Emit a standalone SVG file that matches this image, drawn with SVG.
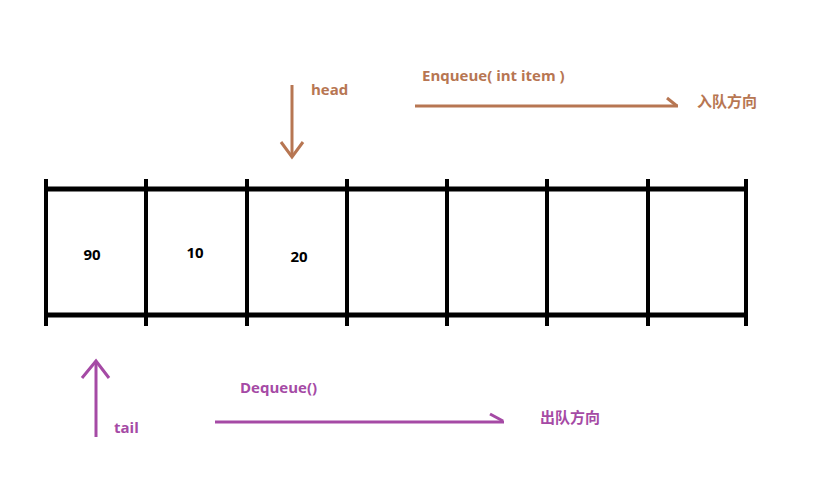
<svg xmlns="http://www.w3.org/2000/svg" width="825" height="486" viewBox="0 0 825 486">
<style>
.grid{stroke:#000;stroke-width:5;fill:none}
.vl{stroke:#000;stroke-width:4;fill:none}
.br{stroke:#b77652;stroke-width:3;fill:none}
.pu{stroke:#a54aa5;stroke-width:3;fill:none}
.t{font-family:"Open Sans","Noto Sans CJK SC",sans-serif;font-weight:bold;font-size:15px}
.c{font-family:"Noto Sans CJK SC",sans-serif;font-weight:bold;font-size:15px}
.tb{fill:#b77652}
.tp{fill:#a54aa5}
.tk{fill:#000}
</style>
<rect width="825" height="486" fill="#fff"/>
<g id="queue">
<line class="grid" x1="46" y1="189" x2="746" y2="189"/>
<line class="grid" x1="46" y1="315" x2="746" y2="315"/>
<line class="vl" x1="46" y1="179" x2="46" y2="326"/>
<line class="vl" x1="146" y1="179" x2="146" y2="326"/>
<line class="vl" x1="247" y1="179" x2="247" y2="326"/>
<line class="vl" x1="347" y1="179" x2="347" y2="326"/>
<line class="vl" x1="447" y1="179" x2="447" y2="326"/>
<line class="vl" x1="547" y1="179" x2="547" y2="326"/>
<line class="vl" x1="648" y1="179" x2="648" y2="326"/>
<line class="vl" x1="746" y1="179" x2="746" y2="326"/>
</g>
<g id="cell0"><text class="t tk" x="92" y="260" text-anchor="middle">90</text></g>
<g id="cell1"><text class="t tk" x="195" y="258" text-anchor="middle">10</text></g>
<g id="cell2"><text class="t tk" x="299" y="262" text-anchor="middle">20</text></g>
<g id="labels">
<text class="t tb" x="311" y="95">head</text>
<text class="t tb" x="422" y="81">Enqueue( int item )</text>
<text class="c tb" x="697" y="107">入队方向</text>
<text class="t tp" x="114" y="433">tail</text>
<text class="t tp" x="240" y="393">Dequeue()</text>
<text class="c tp" x="540" y="423">出队方向</text>
</g>
<g id="connectors">
<line class="br" x1="292" y1="85" x2="292" y2="157"/>
<polyline class="br" points="281,142 292,157 303,142"/>
<line class="br" x1="415" y1="106" x2="678" y2="106"/>
<polyline class="br" points="667,98 677,106"/>
<line class="pu" x1="96" y1="437" x2="96" y2="361"/>
<polyline class="pu" points="82,378 96,361 109,378"/>
<line class="pu" x1="215" y1="422" x2="504" y2="422"/>
<polyline class="pu" points="490,414 503,421"/>
</g>
</svg>
